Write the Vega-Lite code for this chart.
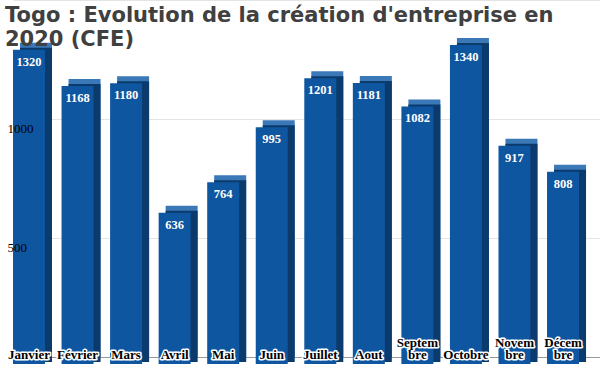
{
  "$schema": "https://vega.github.io/schema/vega-lite/v6.json",
  "autosize": "none",
  "width": 587,
  "height": 357,
  "padding": {"left": 13, "top": 0, "right": 0, "bottom": 14},
  "background": "white",
  "title": {
    "text": ["Togo : Evolution de la création d'entreprise en", "2020 (CFE)"],
    "orient": "top",
    "anchor": "start",
    "frame": "group",
    "font": "DejaVu Sans",
    "fontWeight": "bold",
    "fontSize": 21,
    "lineHeight": 24,
    "color": "#404040",
    "baseline": "top",
    "offset": -50,
    "dx": -8
  },
  "config": {"view": {"stroke": null}},
  "resolve": {"axis": {"y": "independent"}},
  "data": {
    "values": [
      {"mois": "Janvier", "label": "\nJanvier", "valeur": 1320},
      {"mois": "Février", "label": "\nFévrier", "valeur": 1168},
      {"mois": "Mars", "label": "\nMars", "valeur": 1180},
      {"mois": "Avril", "label": "\nAvril", "valeur": 636},
      {"mois": "Mai", "label": "\nMai", "valeur": 764},
      {"mois": "Juin", "label": "\nJuin", "valeur": 995},
      {"mois": "Juillet", "label": "\nJuillet", "valeur": 1201},
      {"mois": "Aout", "label": "\nAout", "valeur": 1181},
      {"mois": "Septembre", "label": "Septem\nbre", "valeur": 1082},
      {"mois": "Octobre", "label": "\nOctobre", "valeur": 1340},
      {"mois": "Novembre", "label": "Novem\nbre", "valeur": 917},
      {"mois": "Décembre", "label": "Décem\nbre", "valeur": 808}
    ]
  },
  "encoding": {
    "x": {
      "field": "mois",
      "type": "nominal",
      "sort": null,
      "scale": {"paddingInner": 0.341, "paddingOuter": 0.216, "align": 0},
      "axis": {"labels": false, "ticks": false, "title": null, "domain": true, "domainColor": "#999999", "domainWidth": 1}
    }
  },
  "layer": [
    {
      "mark": {"type": "bar", "color": "#3a78b8", "xOffset": 7},
      "encoding": {
        "y": {
          "field": "valeur",
          "type": "quantitative",
          "scale": {"domain": [0, 1500], "nice": false, "zero": true},
          "axis": {
            "orient": "left",
            "values": [500, 1000, 1500],
            "title": null,
            "grid": true,
            "gridColor": "#e4e4e4",
            "domain": false,
            "ticks": false,
            "labels": false,
            "zindex": 0
          }
        }
      }
    },
    {
      "mark": {"type": "bar", "color": "#0b3b6c", "xOffset": 7, "yOffset": 5, "y2Offset": 6},
      "encoding": {"y": {"field": "valeur", "type": "quantitative", "axis": null}}
    },
    {
      "mark": {"type": "bar", "color": "#0f56a0", "yOffset": 7, "y2Offset": 8},
      "encoding": {"y": {"field": "valeur", "type": "quantitative", "axis": null}}
    },
    {
      "mark": {"type": "text", "color": "white", "font": "Liberation Serif", "fontWeight": "bold", "fontSize": 12.5, "baseline": "top", "yOffset": 13},
      "encoding": {
        "y": {"field": "valeur", "type": "quantitative", "axis": null},
        "text": {"field": "valeur", "type": "quantitative"}
      }
    },
    {
      "mark": {"type": "text", "color": "black", "stroke": "white", "strokeWidth": 3, "strokeJoin": "round", "font": "Liberation Serif", "fontWeight": "bold", "fontSize": 13, "baseline": "bottom", "lineBreak": "\n", "lineHeight": 12, "yOffset": -7},
      "encoding": {
        "y": {"datum": 0, "type": "quantitative", "axis": null},
        "text": {"field": "label"}
      }
    },
    {
      "mark": {"type": "text", "color": "black", "font": "Liberation Serif", "fontWeight": "bold", "fontSize": 13, "baseline": "bottom", "lineBreak": "\n", "lineHeight": 12, "yOffset": -7},
      "encoding": {
        "y": {
          "datum": 0,
          "type": "quantitative",
          "axis": {
            "orient": "left",
            "values": [500, 1000],
            "format": "d",
            "title": null,
            "grid": false,
            "domain": false,
            "ticks": false,
            "tickSize": 0,
            "labelAlign": "left",
            "labelBaseline": "top",
            "labelOffset": 3,
            "labelPadding": 6,
            "labelFont": "Liberation Serif",
            "labelFontSize": 13,
            "labelColor": "black",
            "zindex": 2
          }
        },
        "text": {"field": "label"}
      }
    }
  ]
}
